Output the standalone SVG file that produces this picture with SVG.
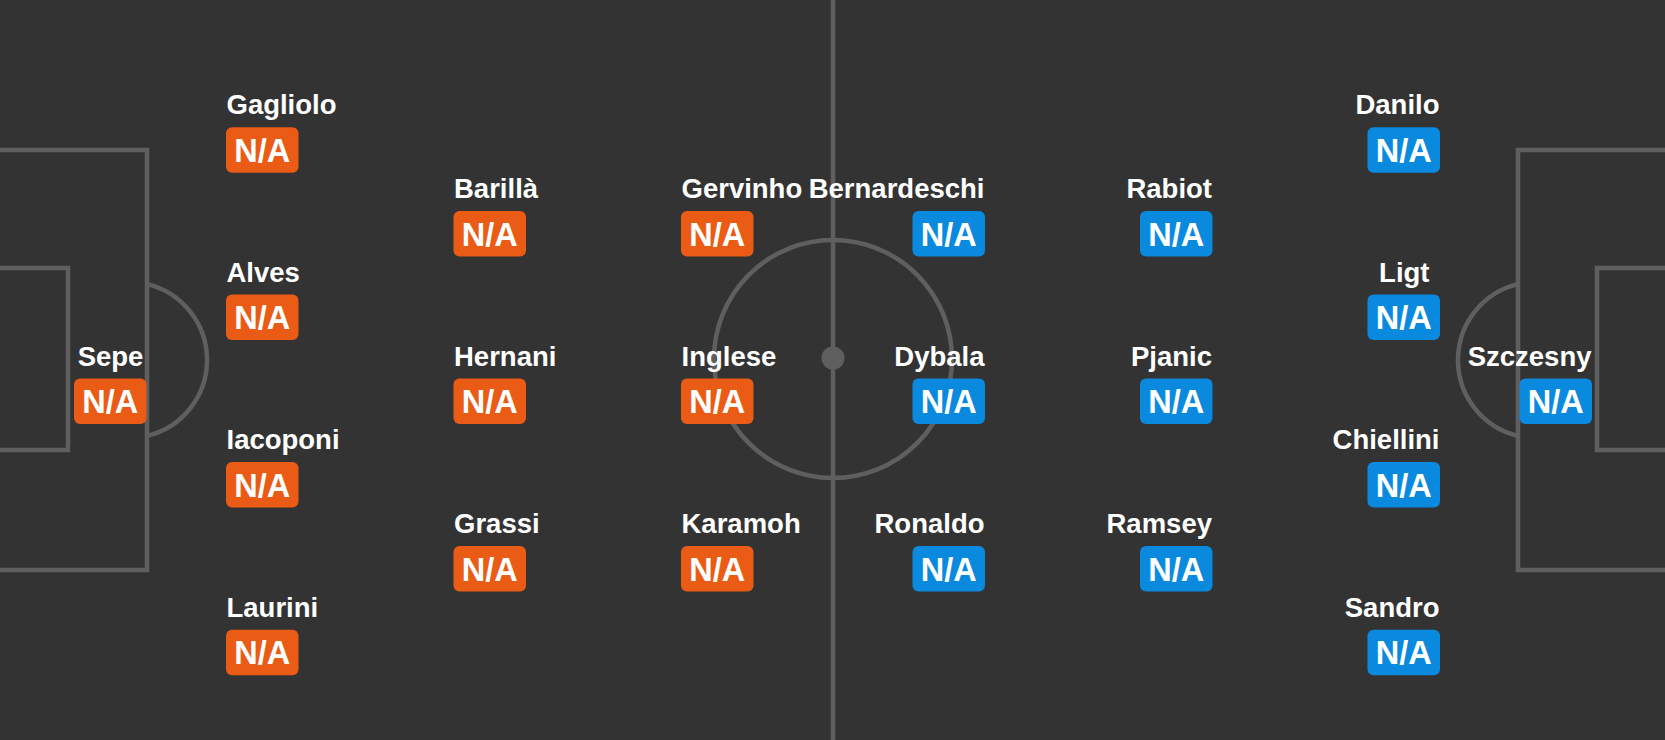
<svg xmlns="http://www.w3.org/2000/svg" width="1665" height="740" viewBox="0 0 1665 740">
<defs>
<filter id="soft" x="-5%" y="-5%" width="110%" height="110%"><feGaussianBlur stdDeviation="0.7"/></filter>
<style>
.ln{fill:none;stroke:#5f5f5f;stroke-width:4.5}
.nm{font-family:"Liberation Sans",Arial,sans-serif;font-weight:bold;font-size:27.5px;fill:#ffffff}
.na{font-family:"Liberation Sans",Arial,sans-serif;font-weight:bold;font-size:32.5px;fill:#ffffff;text-anchor:middle}
.h{fill:#EA5B15}
.a{fill:#0A8ADF}
.s{text-anchor:start}
.e{text-anchor:end}
.m{text-anchor:middle}
</style>
</defs>
<rect x="0" y="0" width="1665" height="740" fill="#333333"/>
<g id="pitch" filter="url(#soft)">
<line class="ln" x1="833" y1="-5" x2="833" y2="745"/>
<circle class="ln" cx="833" cy="359" r="119"/>
<circle cx="833" cy="358" r="11.5" fill="#5f5f5f"/>
<path class="ln" d="M-10 150 H147 V570 H-10"/>
<path class="ln" d="M-10 268 H68 V450 H-10"/>
<path class="ln" d="M147 284.1 A78 78 0 0 1 147 435.9"/>
<path class="ln" d="M1675 150 H1518 V570 H1675"/>
<path class="ln" d="M1675 268 H1597 V450 H1675"/>
<path class="ln" d="M1518 284.1 A78 78 0 0 0 1518 435.9"/>
</g>
<g id="connectors"></g>
<!-- Home team -->
<g id="p-sepe"><text class="nm m" x="110.5" y="365.5">Sepe</text><rect class="h" x="74" y="378.5" width="72.5" height="45.5" rx="6"/><text class="na" x="110.3" y="413">N/A</text></g>
<g id="p-gagliolo"><text class="nm s" x="226.5" y="114.3">Gagliolo</text><rect class="h" x="226" y="127.3" width="72.5" height="45.5" rx="6"/><text class="na" x="262.3" y="161.8">N/A</text></g>
<g id="p-alves"><text class="nm s" x="226.5" y="281.5">Alves</text><rect class="h" x="226" y="294.5" width="72.5" height="45.5" rx="6"/><text class="na" x="262.3" y="329">N/A</text></g>
<g id="p-iacoponi"><text class="nm s" x="226.5" y="449">Iacoponi</text><rect class="h" x="226" y="462" width="72.5" height="45.5" rx="6"/><text class="na" x="262.3" y="496.5">N/A</text></g>
<g id="p-laurini"><text class="nm s" x="226.5" y="616.8">Laurini</text><rect class="h" x="226" y="629.8" width="72.5" height="45.5" rx="6"/><text class="na" x="262.3" y="664.3">N/A</text></g>
<g id="p-barilla"><text class="nm s" x="454" y="198">Barillà</text><rect class="h" x="453.5" y="211" width="72.5" height="45.5" rx="6"/><text class="na" x="489.8" y="245.5">N/A</text></g>
<g id="p-hernani"><text class="nm s" x="454" y="365.5">Hernani</text><rect class="h" x="453.5" y="378.5" width="72.5" height="45.5" rx="6"/><text class="na" x="489.8" y="413">N/A</text></g>
<g id="p-grassi"><text class="nm s" x="454" y="533">Grassi</text><rect class="h" x="453.5" y="546" width="72.5" height="45.5" rx="6"/><text class="na" x="489.8" y="580.5">N/A</text></g>
<g id="p-gervinho"><text class="nm s" x="681.5" y="198">Gervinho</text><rect class="h" x="681" y="211" width="72.5" height="45.5" rx="6"/><text class="na" x="717.3" y="245.5">N/A</text></g>
<g id="p-inglese"><text class="nm s" x="681.5" y="365.5">Inglese</text><rect class="h" x="681" y="378.5" width="72.5" height="45.5" rx="6"/><text class="na" x="717.3" y="413">N/A</text></g>
<g id="p-karamoh"><text class="nm s" x="681.5" y="533">Karamoh</text><rect class="h" x="681" y="546" width="72.5" height="45.5" rx="6"/><text class="na" x="717.3" y="580.5">N/A</text></g>
<!-- Away team -->
<g id="p-bernardeschi"><text class="nm e" x="984.5" y="198">Bernardeschi</text><rect class="a" x="912.5" y="211" width="72.5" height="45.5" rx="6"/><text class="na" x="948.8" y="245.5">N/A</text></g>
<g id="p-dybala"><text class="nm e" x="984.5" y="365.5">Dybala</text><rect class="a" x="912.5" y="378.5" width="72.5" height="45.5" rx="6"/><text class="na" x="948.8" y="413">N/A</text></g>
<g id="p-ronaldo"><text class="nm e" x="984.5" y="533">Ronaldo</text><rect class="a" x="912.5" y="546" width="72.5" height="45.5" rx="6"/><text class="na" x="948.8" y="580.5">N/A</text></g>
<g id="p-rabiot"><text class="nm e" x="1212" y="198">Rabiot</text><rect class="a" x="1140" y="211" width="72.5" height="45.5" rx="6"/><text class="na" x="1176.3" y="245.5">N/A</text></g>
<g id="p-pjanic"><text class="nm e" x="1212" y="365.5">Pjanic</text><rect class="a" x="1140" y="378.5" width="72.5" height="45.5" rx="6"/><text class="na" x="1176.3" y="413">N/A</text></g>
<g id="p-ramsey"><text class="nm e" x="1212" y="533">Ramsey</text><rect class="a" x="1140" y="546" width="72.5" height="45.5" rx="6"/><text class="na" x="1176.3" y="580.5">N/A</text></g>
<g id="p-danilo"><text class="nm e" x="1439.5" y="114.3">Danilo</text><rect class="a" x="1367.5" y="127.3" width="72.5" height="45.5" rx="6"/><text class="na" x="1403.8" y="161.8">N/A</text></g>
<g id="p-ligt"><text class="nm m" x="1404.3" y="281.5">Ligt</text><rect class="a" x="1367.5" y="294.5" width="72.5" height="45.5" rx="6"/><text class="na" x="1403.8" y="329">N/A</text></g>
<g id="p-chiellini"><text class="nm e" x="1439.5" y="449">Chiellini</text><rect class="a" x="1367.5" y="462" width="72.5" height="45.5" rx="6"/><text class="na" x="1403.8" y="496.5">N/A</text></g>
<g id="p-sandro"><text class="nm e" x="1439.5" y="616.8">Sandro</text><rect class="a" x="1367.5" y="629.8" width="72.5" height="45.5" rx="6"/><text class="na" x="1403.8" y="664.3">N/A</text></g>
<g id="p-szczesny"><text class="nm e" x="1591.5" y="365.5">Szczesny</text><rect class="a" x="1519.5" y="378.5" width="72.5" height="45.5" rx="6"/><text class="na" x="1555.8" y="413">N/A</text></g>
</svg>
